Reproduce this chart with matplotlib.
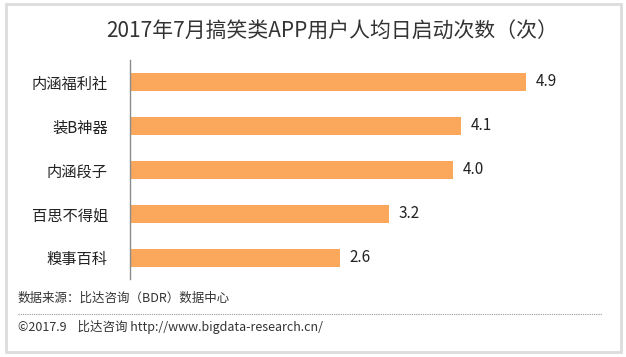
import matplotlib
matplotlib.use('Agg')
import matplotlib.pyplot as plt
from matplotlib.patches import Rectangle
from matplotlib.lines import Line2D

plt.rcParams['font.family'] = ['Noto Sans CJK SC', 'DejaVu Sans']

# 数据
apps = ['内涵福利社', '装B神器', '内涵段子', '百思不得姐', '糗事百科']
launches = [4.9, 4.1, 4.0, 3.2, 2.6]
value_labels = ['4.9', '4.1', '4.0', '3.2', '2.6']

title = '2017年7月搞笑类APP用户人均日启动次数（次）'
source = '数据来源：比达咨询（BDR）数据中心'
footer = '©2017.9    比达咨询 http://www.bigdata-research.cn/'

W, H = 626, 357
fig = plt.figure(figsize=(W / 100, H / 100), dpi=100)

def fx(px):
    return px / W

def fy(py):
    return 1 - py / H

ax = fig.add_axes([fx(130), fy(279), fx(615) - fx(130), fy(60) - fy(279)])

ypos = list(range(len(apps)))
ax.barh(ypos, launches, height=0.41, color='#FCA85C')
ax.set_xlim(0, (615 - 130) / 80.8)
ax.set_ylim(4.48, -0.5)

for y, v, lab in zip(ypos, launches, value_labels):
    ax.text(v + 0.12, y, lab, va='center', ha='left', fontsize=11, color='#222222')

ax.set_yticks(ypos)
ax.set_yticklabels(apps, fontsize=11, color='#222222')
ax.tick_params(axis='y', length=0, pad=16)
ax.set_xticks([])
for s in ['top', 'right', 'bottom']:
    ax.spines[s].set_visible(False)
ax.spines['left'].set_color('#8c8c8c')
ax.spines['left'].set_linewidth(1)

# 标题
fig.text(fx(332), fy(32), title, ha='center', va='center', fontsize=15, color='#333333')

# 来源和版权
fig.text(fx(18), fy(298), source, ha='left', va='center', fontsize=9, color='#333333')
fig.add_artist(Line2D([fx(18), fx(602)], [fy(314), fy(314)], color='#999999',
                      lw=0.8, linestyle=(0, (1, 1))))
fig.text(fx(18), fy(327), footer, ha='left', va='center', fontsize=9, color='#333333')

# 外框
fig.add_artist(Rectangle((fx(6), fy(352)), fx(621) - fx(6), fy(4) - fy(352),
                         fill=False, edgecolor='#dcdcdc', lw=2))

fig.savefig('out.png', dpi=100)
